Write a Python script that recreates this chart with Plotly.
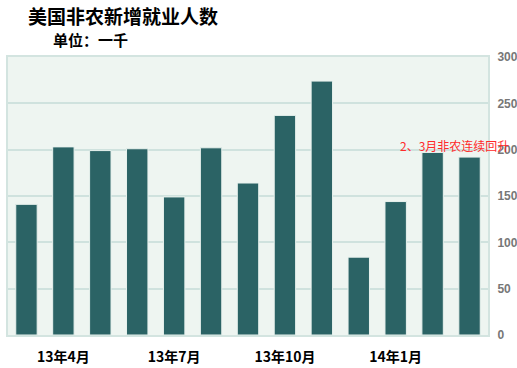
import plotly.graph_objects as go

months = ["13年3月", "13年4月", "13年5月", "13年6月", "13年7月", "13年8月", "13年9月",
          "13年10月", "13年11月", "13年12月", "14年1月", "14年2月", "14年3月"]
payrolls = [141, 203, 199, 201, 149, 202, 164, 237, 274, 84, 144, 197, 192]
tick_labels = ["13年4月", "13年7月", "13年10月", "14年1月"]
y_ticks = [0, 50, 100, 150, 200, 250, 300]

W, H = 517, 368
l, r, t, b = 8, 29, 57, 33
pw, ph = W - l - r, H - t - b


def px_x(x):
    return (x - l) / pw


def px_y(y):
    return 1 - (y - t) / ph


fig = go.Figure()
fig.add_trace(go.Bar(
    x=months, y=payrolls,
    marker=dict(color="#2B6365", line=dict(color="#E8F2EE", width=1)),
    width=0.58,
))

fig.update_layout(
    width=W, height=H,
    margin=dict(l=l, r=r, t=t, b=b, autoexpand=False),
    paper_bgcolor="white",
    plot_bgcolor="#EEF5F1",
    showlegend=False,
    font=dict(family="Noto Sans CJK SC"),
    xaxis=dict(
        tickmode="array", tickvals=tick_labels, ticktext=tick_labels,
        tickfont=dict(size=14, color="black", family="Noto Sans CJK SC", weight="bold"),
        showgrid=False, ticks="", showline=True, linecolor="#D3E4E0", linewidth=2,
        mirror=True, ticklabelstandoff=8, automargin=False,
    ),
    yaxis=dict(
        side="right", range=[0, 300], tickvals=y_ticks,
        tickfont=dict(size=12, color="#777777", family="Liberation Sans", weight="bold"),
        gridcolor="#CFE2DE", gridwidth=1.5, showline=True, linecolor="#D3E4E0",
        linewidth=2, mirror=True, zeroline=False, ticks="", ticklabelstandoff=5,
        automargin=False,
    ),
    annotations=[
        dict(text="美国非农新增就业人数", x=px_x(26), y=px_y(15), xref="paper", yref="paper",
             showarrow=False, xanchor="left", yanchor="middle",
             font=dict(size=19, color="black", family="Noto Sans CJK SC", weight="bold")),
        dict(text="单位：一千", x=px_x(51), y=px_y(40), xref="paper", yref="paper",
             showarrow=False, xanchor="left", yanchor="middle",
             font=dict(size=15, color="black", family="Noto Sans CJK SC", weight="bold")),
        dict(text="2、3月非农连续回升", x=px_x(398), y=px_y(145), xref="paper", yref="paper",
             showarrow=False, xanchor="left", yanchor="middle",
             font=dict(size=12, color="#FF2A2A", family="Noto Sans CJK SC")),
    ],
)

fig.write_html("out.html", config={"displayModeBar": False},
               post_script="document.body.style.margin='0';")
